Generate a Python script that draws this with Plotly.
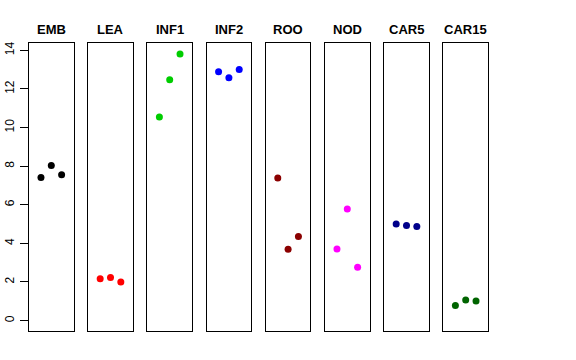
import plotly.graph_objects as go

groups = ["EMB", "LEA", "INF1", "INF2", "ROO", "NOD", "CAR5", "CAR15"]
colors = ["#000000", "#FF0000", "#00CD00", "#0000FF", "#8B0000", "#FF00FF", "#00008B", "#006400"]
replicate = [1, 2, 3]
emb = [7.41, 8.03, 7.56]
lea = [2.17, 2.23, 2.00]
inf1 = [10.54, 12.48, 13.81]
inf2 = [12.89, 12.58, 13.01]
roo = [7.39, 3.69, 4.35]
nod = [3.71, 5.78, 2.76]
car5 = [5.00, 4.92, 4.87]
car15 = [0.78, 1.07, 1.02]
values = [emb, lea, inf1, inf2, roo, nod, car5, car15]
yticks = [0, 2, 4, 6, 8, 10, 12, 14]

W, H = 576, 360
L, T = 29, 43
plot_w = 459
plot_h = 288
R = W - L - plot_w
B = H - T - plot_h
panel_w = 44.6
gap = (plot_w - 8 * panel_w) / 7

fig = go.Figure()
layout = dict(
    width=W, height=H,
    margin=dict(l=L, r=R, t=T, b=B, autoexpand=False),
    paper_bgcolor="white", plot_bgcolor="white",
    showlegend=False,
    font=dict(family="Liberation Sans, Arial, sans-serif", color="black"),
    annotations=[],
)
ymin, ymax = -0.54, 14.38
for i, (g, c, v) in enumerate(zip(groups, colors, values)):
    n = "" if i == 0 else str(i + 1)
    x0 = (i * (panel_w + gap)) / plot_w
    x1 = (i * (panel_w + gap) + panel_w) / plot_w
    fig.add_trace(go.Scatter(
        x=replicate, y=v, mode="markers",
        marker=dict(color=c, size=7, line=dict(width=0)),
        xaxis="x" + n, yaxis="y" + n, name=g,
    ))
    layout["xaxis" + n] = dict(
        domain=[x0, min(x1, 1)], range=[-0.16, 4.16],
        showgrid=False, zeroline=False, showticklabels=False, ticks="",
        showline=True, mirror=True, linecolor="black", linewidth=1,
        anchor="y" + n, fixedrange=True, automargin=False,
    )
    ya = dict(
        range=[ymin, ymax], domain=[0, 1],
        showgrid=False, zeroline=False,
        showline=True, mirror=True, linecolor="black", linewidth=1,
        anchor="x" + n, fixedrange=True, automargin=False,
    )
    if i == 0:
        ya.update(tickmode="array", tickvals=yticks, ticks="outside",
                  ticklen=8, tickcolor="black", tickwidth=1,
                  tickangle=-90, tickfont=dict(size=12),
                  ticklabelstandoff=1)
    else:
        ya.update(showticklabels=False, ticks="")
    layout["yaxis" + n] = ya
    layout["annotations"].append(dict(
        text="<b>" + g + "</b>", xref="x" + n + " domain", yref="paper",
        x=0.5, y=1, yshift=14, showarrow=False, xanchor="center", yanchor="middle",
        font=dict(size=13, color="black"),
    ))

fig.update_layout(**layout)
fig.write_html("out.html",
               config={"displayModeBar": False, "staticPlot": True},
               post_script="document.body.style.margin='0';document.body.style.overflow='hidden';")
